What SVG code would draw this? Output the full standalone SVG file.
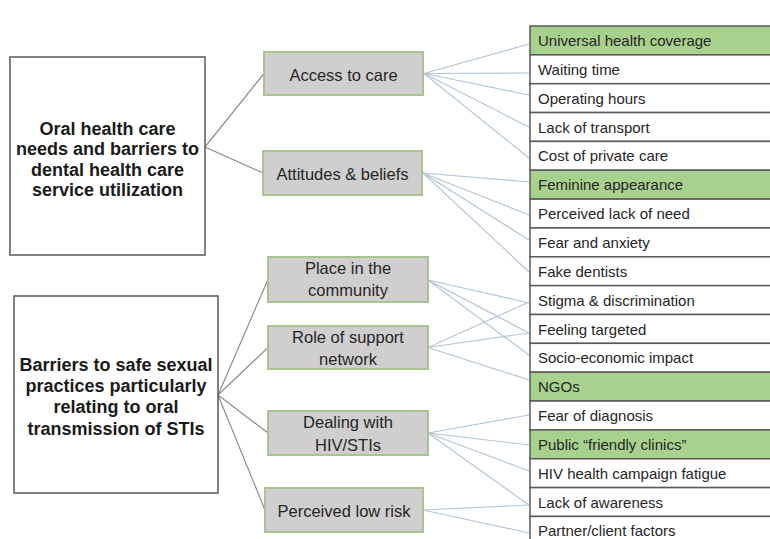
<svg xmlns="http://www.w3.org/2000/svg" width="770" height="539" viewBox="0 0 770 539">
<style>
.bg{fill:#fff}
.lbox{fill:#fff;stroke:#595959;stroke-width:1.5}
.mbox{fill:#d0cece;stroke:#a9c48e;stroke-width:2}
.row{fill:#fff;stroke:#595959;stroke-width:1.5}
.g{fill:#a9d18e}
.lt{font-family:"Liberation Sans",Arial,sans-serif;font-weight:bold;font-size:18px;fill:#1a1a1a;text-anchor:middle}
.mt{font-family:"Liberation Sans",Arial,sans-serif;font-size:16.5px;fill:#262626;text-anchor:middle}
.rt{font-family:"Liberation Sans",Arial,sans-serif;font-size:15px;fill:#262626}
.c1{stroke:#8c8c8c;stroke-width:1.2;fill:none}
.c2{stroke:#b3c6d8;stroke-width:1.2;fill:none}
</style>
<rect class="bg" x="0" y="0" width="770" height="539"/>
<g id="connectors">
<g class="c1">
<line x1="205" y1="147" x2="264" y2="73.5"/>
<line x1="205" y1="147" x2="263" y2="173"/>
<line x1="218" y1="395" x2="268" y2="279.5"/>
<line x1="218" y1="395" x2="268" y2="347.5"/>
<line x1="218" y1="395" x2="268" y2="433"/>
<line x1="218" y1="395" x2="265" y2="510"/>
</g>
<g class="c2">
<line x1="424" y1="73.5" x2="529" y2="44"/>
<line x1="424" y1="73.5" x2="529" y2="73"/>
<line x1="424" y1="73.5" x2="529" y2="95"/>
<line x1="424" y1="73.5" x2="529" y2="127"/>
<line x1="424" y1="73.5" x2="529" y2="158"/>
<line x1="423" y1="173" x2="529" y2="182"/>
<line x1="423" y1="173" x2="529" y2="215"/>
<line x1="423" y1="173" x2="529" y2="240"/>
<line x1="423" y1="173" x2="529" y2="272"/>
<line x1="428" y1="280" x2="529" y2="303"/>
<line x1="428" y1="280" x2="529" y2="333"/>
<line x1="428" y1="280" x2="529" y2="355"/>
<line x1="428" y1="347.5" x2="529" y2="302"/>
<line x1="428" y1="347.5" x2="529" y2="333"/>
<line x1="428" y1="347.5" x2="529" y2="380"/>
<line x1="428" y1="433" x2="529" y2="415"/>
<line x1="428" y1="433" x2="529" y2="445"/>
<line x1="428" y1="433" x2="529" y2="471"/>
<line x1="428" y1="433" x2="529" y2="505"/>
<line x1="423" y1="510" x2="529" y2="505"/>
<line x1="423" y1="510" x2="529" y2="533"/>
</g>
</g>
<g id="topic-oral">
<rect class="lbox" x="10" y="57" width="195" height="198"/>
<text class="lt" x="107.5"><tspan x="107.5" y="135">Oral health care</tspan><tspan x="107.5" y="155.3">needs and barriers to</tspan><tspan x="107.5" y="175.6">dental health care</tspan><tspan x="107.5" y="196">service utilization</tspan></text>
</g>
<g id="topic-sexual">
<rect class="lbox" x="14" y="296" width="204" height="197"/>
<text class="lt"><tspan x="116" y="370.5">Barriers to safe sexual</tspan><tspan x="116" y="391.8">practices particularly</tspan><tspan x="116" y="413.1">relating to oral</tspan><tspan x="116" y="434.5">transmission of STIs</tspan></text>
</g>
<g id="access">
<rect class="mbox" x="264" y="52" width="159" height="43"/>
<text class="mt" x="343.5" y="80.5">Access to care</text>
</g>
<g id="attitudes">
<rect class="mbox" x="263" y="151" width="159" height="44"/>
<text class="mt" x="342.5" y="179.5">Attitudes &amp; beliefs</text>
</g>
<g id="place">
<rect class="mbox" x="268" y="257" width="160" height="45"/>
<text class="mt"><tspan x="348" y="273.5">Place in the</tspan><tspan x="348" y="296">community</tspan></text>
</g>
<g id="role">
<rect class="mbox" x="268" y="326" width="160" height="43"/>
<text class="mt"><tspan x="348" y="343">Role of support</tspan><tspan x="348" y="365">network</tspan></text>
</g>
<g id="dealing">
<rect class="mbox" x="268" y="411" width="160" height="44"/>
<text class="mt"><tspan x="348" y="428">Dealing with</tspan><tspan x="348" y="450.5">HIV/STIs</tspan></text>
</g>
<g id="lowrisk">
<rect class="mbox" x="265" y="488" width="158" height="44"/>
<text class="mt" x="344" y="516.5">Perceived low risk</text>
</g>
<g id="r0"><rect class="row g" x="530" y="26" width="241" height="28.85"/><text class="rt" x="538" y="46">Universal health coverage</text></g>
<g id="r1"><rect class="row" x="530" y="54.85" width="241" height="28.85"/><text class="rt" x="538" y="74.85">Waiting time</text></g>
<g id="r2"><rect class="row" x="530" y="83.7" width="241" height="28.85"/><text class="rt" x="538" y="103.7">Operating hours</text></g>
<g id="r3"><rect class="row" x="530" y="112.55" width="241" height="28.85"/><text class="rt" x="538" y="132.55">Lack of transport</text></g>
<g id="r4"><rect class="row" x="530" y="141.4" width="241" height="28.85"/><text class="rt" x="538" y="161.4">Cost of private care</text></g>
<g id="r5"><rect class="row g" x="530" y="170.25" width="241" height="28.85"/><text class="rt" x="538" y="190.25">Feminine appearance</text></g>
<g id="r6"><rect class="row" x="530" y="199.1" width="241" height="28.85"/><text class="rt" x="538" y="219.1">Perceived lack of need</text></g>
<g id="r7"><rect class="row" x="530" y="227.95" width="241" height="28.85"/><text class="rt" x="538" y="247.95">Fear and anxiety</text></g>
<g id="r8"><rect class="row" x="530" y="256.8" width="241" height="28.85"/><text class="rt" x="538" y="276.8">Fake dentists</text></g>
<g id="r9"><rect class="row" x="530" y="285.65" width="241" height="28.85"/><text class="rt" x="538" y="305.65">Stigma &amp; discrimination</text></g>
<g id="r10"><rect class="row" x="530" y="314.5" width="241" height="28.85"/><text class="rt" x="538" y="334.5">Feeling targeted</text></g>
<g id="r11"><rect class="row" x="530" y="343.35" width="241" height="28.85"/><text class="rt" x="538" y="363.35">Socio-economic impact</text></g>
<g id="r12"><rect class="row g" x="530" y="372.2" width="241" height="28.85"/><text class="rt" x="538" y="392.2">NGOs</text></g>
<g id="r13"><rect class="row" x="530" y="401.05" width="241" height="28.85"/><text class="rt" x="538" y="421.05">Fear of diagnosis</text></g>
<g id="r14"><rect class="row g" x="530" y="429.9" width="241" height="28.85"/><text class="rt" x="538" y="449.9">Public “friendly clinics”</text></g>
<g id="r15"><rect class="row" x="530" y="458.75" width="241" height="28.85"/><text class="rt" x="538" y="478.75">HIV health campaign fatigue</text></g>
<g id="r16"><rect class="row" x="530" y="487.6" width="241" height="28.85"/><text class="rt" x="538" y="507.6">Lack of awareness</text></g>
<g id="r17"><rect class="row" x="530" y="516.45" width="241" height="28.85"/><text class="rt" x="538" y="536.45">Partner/client factors</text></g>
</svg>
